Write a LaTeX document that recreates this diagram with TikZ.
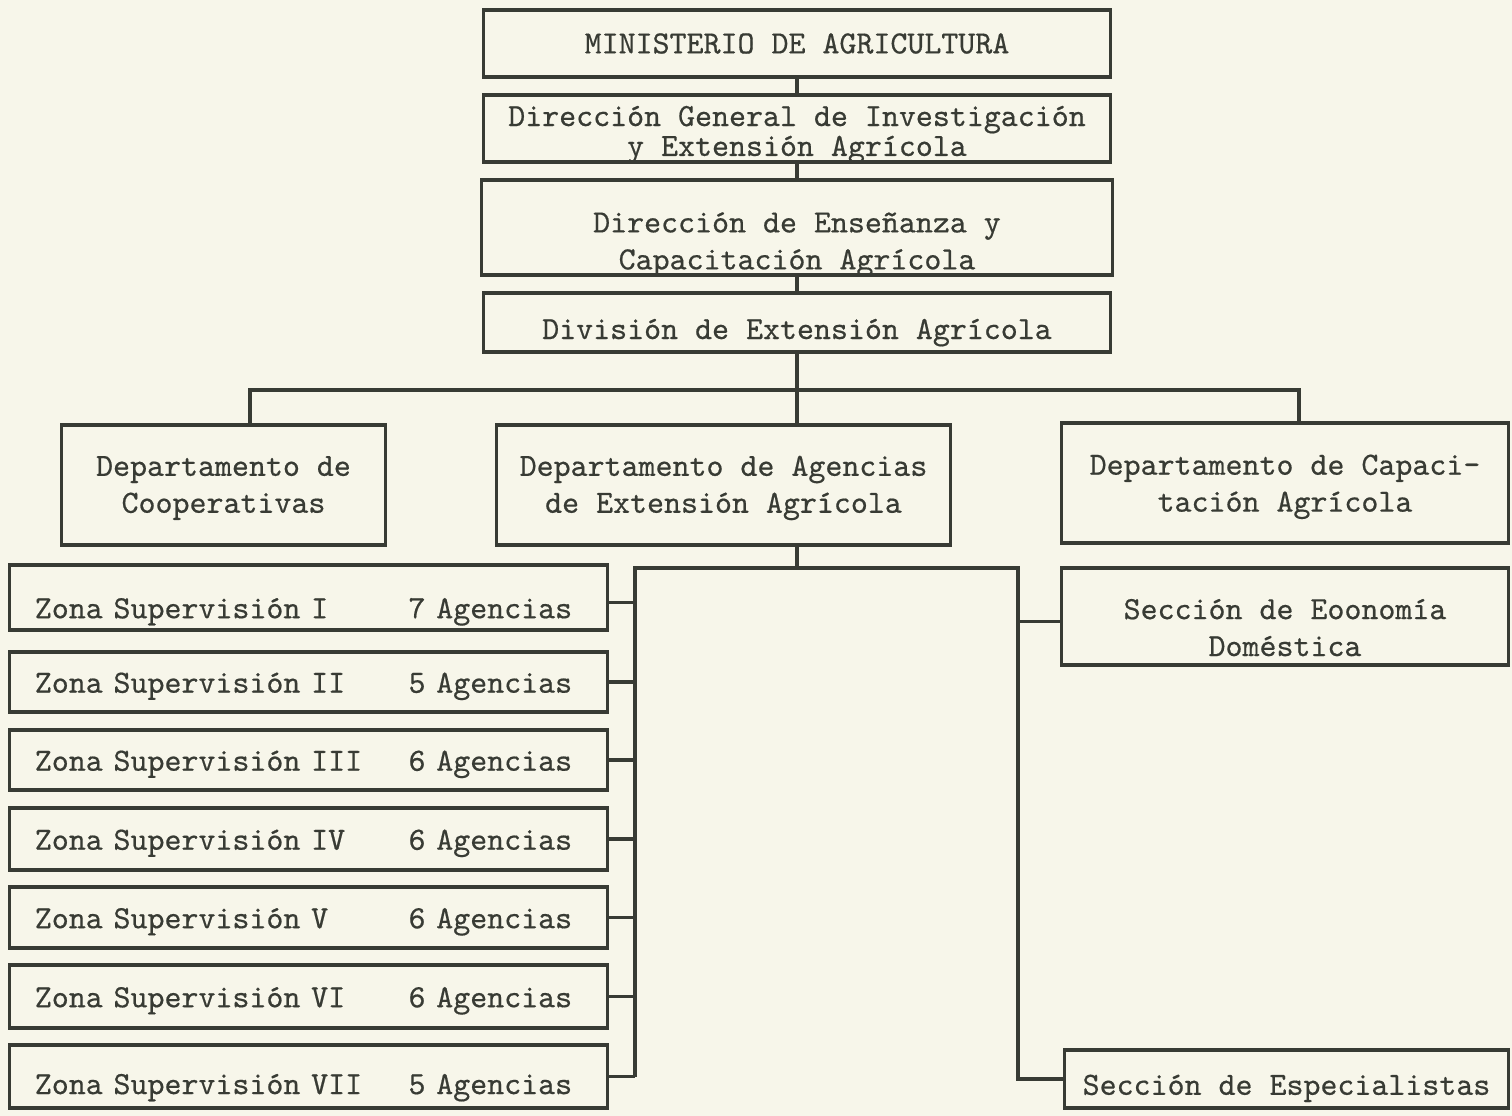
\documentclass[tikz,border=0pt]{standalone}
\usepackage{fontspec}
\setmonofont{lmmono10-regular.otf}[FakeBold=0.5]
\usepackage{xcolor}
\usepackage{tikz}
\usetikzlibrary{calc}

\definecolor{papel}{HTML}{F7F6EA}
\definecolor{tinta}{HTML}{383B34}
\newcommand{\tipo}{\fontsize{9.2}{10.5}\selectfont\ttfamily}
\newcommand{\zona}[2]{\makebox[11.55em][l]{Zona Supervisión #1}#2 Agencias}

\begin{document}
\begin{tikzpicture}[x=0.01cm,y=-0.01cm,
        caja/.style={draw=tinta,line width=0.9pt,inner sep=0pt,align=center,font=\tipo,text=tinta},
        zonabox/.style={caja,minimum width=5.97cm,text width=5.47cm,align=left},
        linea/.style={draw=tinta,line width=0.9pt}]
        \fill[papel] (0,0) rectangle (1512,1116);
        \useasboundingbox (0,0) rectangle (1512,1116);

        % cabeza
        \node[caja,minimum width=6.27cm,minimum height=0.67cm] (mini) at (797,43.5) {MINISTERIO DE AGRICULTURA};
        \node[caja,minimum width=6.27cm,minimum height=0.67cm,text height=15.6pt,text depth=0pt] (dgen) at (797,128.5) {Dirección General de Investigación\\[-2pt]y Extensión Agrícola};
        \node[caja,minimum width=6.30cm,minimum height=0.95cm,text height=23.8pt,text depth=0pt] (ense) at (797,227.5) {Dirección de Enseñanza y\\Capacitación Agrícola};
        \node[caja,minimum width=6.27cm,minimum height=0.59cm,text height=9.4pt,text depth=0pt] (divi) at (797,322.5) {División de Extensión Agrícola};

        % departamentos
        \node[caja,minimum width=3.23cm,minimum height=1.20cm,text height=15.8pt,text depth=0pt] (coop) at (223.5,485) {Departamento de\\Cooperativas};
        \node[caja,minimum width=4.53cm,minimum height=1.20cm,text height=15.8pt,text depth=0pt] (agen) at (723.5,485) {Departamento de Agencias\\de Extensión Agrícola};
        \node[caja,minimum width=4.46cm,minimum height=1.20cm,text height=16.3pt,text depth=0pt] (capa) at (1285,483) {Departamento de Capaci-\\tación Agrícola};
        \node[caja,minimum width=4.46cm,minimum height=0.97cm,text height=22.5pt,text depth=0pt] (econ) at (1285,616.5) {Sección de Eoonomía\\Doméstica};
        \node[caja,minimum width=4.43cm,minimum height=0.58cm,text height=9pt,text depth=0pt] (espe) at (1286.5,1079) {Sección de Especialistas};

        % zonas
        \node[zonabox,minimum height=0.65cm,text height=11.8pt,text depth=0pt] (z1) at (308.5,597.5) {\zona{I}{7}};
        \node[zonabox,minimum height=0.60cm,text height=6.4pt,text depth=0.3pt] (z2) at (308.5,682) {\zona{II}{5}};
        \node[zonabox,minimum height=0.60cm,text height=6.4pt,text depth=0.3pt] (z3) at (308.5,760) {\zona{III}{6}};
        \node[zonabox,minimum height=0.62cm,text height=6.4pt,text depth=0.3pt] (z4) at (308.5,839) {\zona{IV}{6}};
        \node[zonabox,minimum height=0.61cm,text height=6.4pt,text depth=0.3pt] (z5) at (308.5,917.5) {\zona{V}{6}};
        \node[zonabox,minimum height=0.63cm,text height=6.4pt,text depth=0.3pt] (z6) at (308.5,996.5) {\zona{VI}{6}};
        \node[zonabox,minimum height=0.63cm,text height=10pt,text depth=0pt] (z7) at (308.5,1076.5) {\zona{VII}{5}};

        % lineas
        \coordinate (bi) at (250,390);
        \coordinate (bd) at (1299,390);
        \coordinate (ri) at (635,568);
        \coordinate (rd) at (1018,568);

        \draw[linea] (mini.south) -- (dgen.north);
        \draw[linea] (dgen.south) -- (ense.north);
        \draw[linea] (ense.south) -- (divi.north);
        \draw[linea] (divi.south) -- (divi.south |- agen.north);
        \draw[linea] (bi |- coop.north) -- (bi) -- (bd) -- (bd |- capa.north);

        \draw[linea] (divi.south |- agen.south) -- (divi.south |- ri);
        \draw[linea] (ri |- z7.east) -- (ri) -- (rd) -- (rd |- espe.west) -- (espe.west);
        \draw[linea] ($(econ.west)+(0,5)$) -- ($(econ.west -| rd)+(0,5)$);
        \draw[linea] ($(z1.east)+(0,5)$) -- ($(z1.east -| ri)+(0,5)$);
        \draw[linea] (z2.east) -- (z2.east -| ri);
        \draw[linea] (z3.east) -- (z3.east -| ri);
        \draw[linea] (z4.east) -- (z4.east -| ri);
        \draw[linea] (z5.east) -- (z5.east -| ri);
        \draw[linea] (z6.east) -- (z6.east -| ri);
        \draw[linea] (z7.east) -- (z7.east -| ri);
\end{tikzpicture}
\end{document}
